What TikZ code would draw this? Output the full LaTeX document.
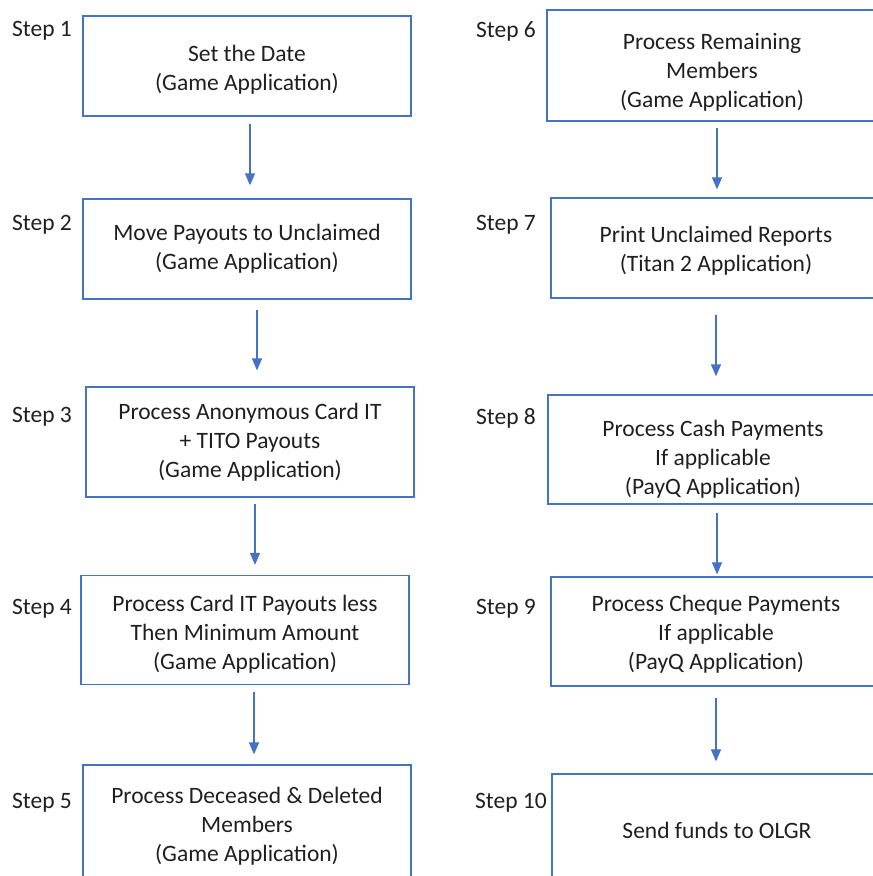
\documentclass[tikz,border=0pt]{standalone}
\usepackage{fontspec}
\setmainfont{Carlito}
\usetikzlibrary{arrows.meta}
\definecolor{boxblue}{HTML}{4472C4}
\newcommand{\textlift}[1]{\rule{0pt}{#1}}
\begin{document}
\begin{tikzpicture}[x=1pt, y=-1pt,
    stepbox/.style={draw=boxblue, line width=1.3pt, minimum width=328pt, inner sep=0pt, align=center, text=black!88, font=\fontsize{23.5}{29}\selectfont},
    steplabel/.style={anchor=west, inner sep=0pt, text=black!88, font=\fontsize{23.5}{29}\selectfont},
    flow/.style={draw=boxblue, line width=1.2pt, -{Triangle[length=12pt,width=10pt]}}]
    \useasboundingbox (0,0) rectangle (873,876);
    \clip (0,0) rectangle (873,876);

    % 左の列
    \node[stepbox, minimum height=100pt] (b1) at (247,66) {\textlift{23pt}Set the Date\\(Game Application)};
    \node[steplabel] (s1) at (12,31) {Step 1};

    \node[stepbox, minimum height=100pt] (b2) at (247,249) {Move Payouts to Unclaimed\\(Game Application)};
    \node[steplabel] (s2) at (12,225) {Step 2};

    \node[stepbox, minimum height=110pt] (b3) at (250,442) {Process Anonymous Card IT\\+ TITO Payouts\\(Game Application)};
    \node[steplabel] (s3) at (12,417) {Step 3};

    \node[stepbox, minimum height=109pt] (b4) at (245,630) {\textlift{24pt}Process Card IT Payouts less\\Then Minimum Amount\\(Game Application)};
    \node[steplabel] (s4) at (12,609) {Step 4};

    \node[stepbox, minimum height=122pt] (b5) at (247,826) {Process Deceased \& Deleted\\Members\\(Game Application)};
    \node[steplabel] (s5) at (12,803) {Step 5};

    % 右の列
    \node[stepbox, minimum width=330pt, minimum height=111pt] (b6) at (712,65.5) {\textlift{29pt}Process Remaining\\Members\\(Game Application)};
    \node[steplabel] (s6) at (476,31) {Step 6};

    \node[stepbox, minimum width=330pt, minimum height=100pt] (b7) at (716,248) {\textlift{21pt}Print Unclaimed Reports\\(Titan 2 Application)};
    \node[steplabel] (s7) at (476,225) {Step 7};

    \node[stepbox, minimum width=330pt, minimum height=109pt] (b8) at (713,449.5) {\textlift{35pt}Process Cash Payments\\If applicable\\(PayQ Application)};
    \node[steplabel] (s8) at (476,418) {Step 8};

    \node[stepbox, minimum width=330pt, minimum height=109pt] (b9) at (716,631.5) {\textlift{21pt}Process Cheque Payments\\If applicable\\(PayQ Application)};
    \node[steplabel] (s9) at (476,609) {Step 9};

    \node[stepbox, minimum width=330pt, minimum height=112pt] (b10) at (717,830) {Send funds to OLGR};
    \node[steplabel] (s10) at (475,803) {Step 10};

    % 矢印
    \draw[flow, shorten <=7pt, shorten >=13pt] ([xshift=3pt]b1.south) -- ([xshift=3pt]b2.north);
    \draw[flow, shorten <=10pt, shorten >=16pt] ([xshift=10pt]b2.south) -- ([xshift=7pt]b3.north);
    \draw[flow, shorten <=6pt, shorten >=10pt] ([xshift=5pt]b3.south) -- ([xshift=10pt]b4.north);
    \draw[flow, shorten <=7pt, shorten >=10pt] ([xshift=9pt]b4.south) -- ([xshift=7pt]b5.north);
    \draw[flow, shorten <=6pt, shorten >=8pt] ([xshift=5pt]b6.south) -- ([xshift=1pt]b7.north);
    \draw[flow, shorten <=16pt, shorten >=18pt] (b7.south) -- ([xshift=3pt]b8.north);
    \draw[flow, shorten <=8pt, shorten >=2pt] ([xshift=4pt]b8.south) -- ([xshift=1pt]b9.north);
    \draw[flow, shorten <=11pt, shorten >=12pt] (b9.south) -- ([xshift=-1pt]b10.north);
  \end{tikzpicture}
\end{document}
